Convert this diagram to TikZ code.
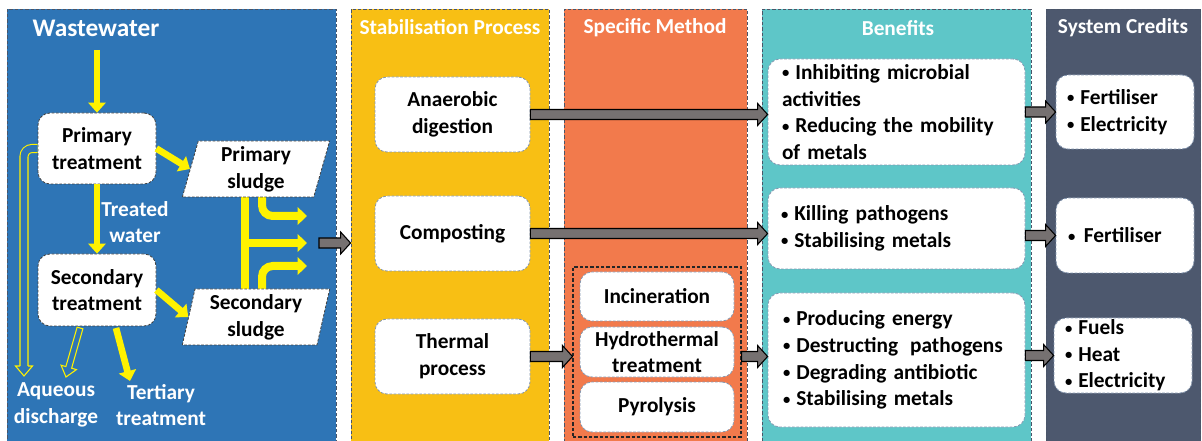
\documentclass[tikz,border=0pt]{standalone}
\usepackage{fontspec}
\setmainfont{Carlito}
\usetikzlibrary{arrows.meta,calc,fit,shapes.geometric}
\definecolor{wwblue}{HTML}{2E75B6}
\definecolor{stabgold}{HTML}{F8BF14}
\definecolor{specor}{HTML}{F27A4C}
\definecolor{benteal}{HTML}{5EC6C8}
\definecolor{credslate}{HTML}{4D586E}
\definecolor{garrowc}{HTML}{767171}
\definecolor{boxborder}{HTML}{8497B0}
\definecolor{panelborder}{HTML}{4A5568}
\newcommand{\bul}{\raisebox{1.2pt}{\fontsize{11pt}{11pt}\selectfont•}\hspace{4.5pt}}
\newcommand{\blockarrow}[2]{%
  \draw[garr] let \p1=#1, \p2=#2 in
    (\x1,\y1+3.75pt) -- (\x2-7.5pt,\y1+3.75pt) -- (\x2-7.5pt,\y1+8.25pt) --
    (\x2,\y1) -- (\x2-7.5pt,\y1-8.25pt) -- (\x2-7.5pt,\y1-3.75pt) --
    (\x1,\y1-3.75pt) -- cycle;}
\newcommand{\hollowarrow}[2]{%
  \coordinate (hb) at ($(#2)!7.5pt!(#1)$);
  \draw[harr] ($(#1)!2.25pt!90:(#2)$) -- ($(hb)!2.25pt!90:(#2)$) --
    ($(hb)!6pt!90:(#2)$) -- (#2) -- ($(hb)!6pt!-90:(#2)$) --
    ($(hb)!2.25pt!-90:(#2)$) -- ($(#1)!2.25pt!-90:(#2)$) -- cycle;}
\begin{document}
\begin{tikzpicture}[x=0.75pt,y=-0.75pt,
  font=\bfseries\fontsize{16pt}{20pt}\selectfont,
  panel/.style={fill=#1, draw=panelborder, line width=0.6pt,
    dash pattern=on 2.5pt off 1.5pt, inner sep=0pt},
  hdr/.style={text=white, inner sep=0pt},
  wlabel/.style={text=white, align=center, inner sep=0pt},
  box/.style={fill=white, draw=boxborder, line width=0.6pt,
    dash pattern=on 2pt off 1.2pt, rounded corners=9pt, align=center,
    inner sep=0pt, text=black},
  dbox/.style={box, draw=black!75},
  lbox/.style={box, align=left, inner ysep=0pt},
  para/.style={trapezium, trapezium left angle=78, trapezium right angle=102,
    trapezium stretches=true, fill=white, draw=black!75, line width=0.6pt,
    dash pattern=on 2pt off 1.2pt, align=center, inner sep=0pt,
    minimum width=111pt, minimum height=42pt},
  yarr/.style={draw=yellow, line width=5pt, -{Triangle[length=7.5pt,width=13pt]}},
  ybar/.style={draw=yellow, line width=6.5pt},
  ybr/.style={draw=yellow, line width=6pt, rounded corners=8pt,
    -{Triangle[length=7pt,width=13pt]}},
  harr/.style={draw=yellow, line width=0.8pt, fill=wwblue},
  hdouble/.style={draw=yellow, line width=0.8pt, double=wwblue,
    double distance=5.2pt, rounded corners=6pt},
  garr/.style={fill=garrowc, draw=black, line width=0.8pt},
  grpbox/.style={draw=black!85, line width=0.8pt, dash pattern=on 2.5pt off 1.5pt,
    inner sep=0pt}
]
\useasboundingbox (0,0) rectangle (1202,441);
\clip (0,0) rectangle (1202,441);

% panels
\node[panel=wwblue, fit={(7,9) (336,450)}] (ww) {};
\node[panel=stabgold, fit={(351,9) (549,450)}] (stab) {};
\node[panel=specor, fit={(564,9) (747,450)}] (spec) {};
\node[panel=benteal, fit={(762,9) (1031,450)}] (ben) {};
\node[panel=credslate, fit={(1046,9) (1200.5,450)}] (cred) {};

% headers
\node[hdr, font=\bfseries\fontsize{19pt}{22pt}\selectfont] (hww) at (96,28) {Wastewater};
\node[hdr] (hstab) at (450,27) {Stabilisation Process};
\node[hdr] (hspec) at (655,28) {Specific Method};
\node[hdr] (hben) at (898,28) {Benefits};
\node[hdr] (hcred) at (1123,28) {System Credits};

% wastewater panel
\coordinate (wwin) at (97,50);
\node[dbox, minimum width=88.5pt, minimum height=53.25pt] (pt) at (97,148.5) {Primary\\treatment};
\node[dbox, minimum width=88.5pt, minimum height=54pt] (st) at (97,290) {Secondary\\treatment};

% sludge merge (under parallelograms)
\draw[ybar] (245,190) -- (245,295);
\draw[ybr] (245,243) -- (307,243);
\draw[ybr] (262,190) -- (262,216) -- (307,216);
\draw[ybr] (262,295) -- (262,266) -- (307,266);

\node[para] (ps) at (256,169) {Primary\\sludge};
\node[para] (ss) at (256,317) {Secondary\\sludge};

\draw[yarr] (wwin) -- (pt.north);
\draw[yarr] (pt.south) -- (st.north);
\node[wlabel] (tw) at (135,222) {Treated\\water};
\draw[yarr] (pt.east) -- (ps.west);
\draw[yarr] (st.east) -- (ss.west);

% hollow arrows to aqueous discharge
\coordinate (aq1) at (24,376);
\draw[hdouble] (pt.west) -| ($(aq1)+(0,-10)$);
\draw[harr] ($(aq1)+(-4,-10)$) -- ($(aq1)+(-8.5,-10)$) -- (aq1) -- ($(aq1)+(8.5,-10)$) -- ($(aq1)+(4,-10)$);
\coordinate (aq2s) at (80,328);
\coordinate (aq2) at (66,377);
\hollowarrow{aq2s}{aq2}
\coordinate (ter1) at (116,328);
\coordinate (ter) at (130,381);
\draw[yarr] (ter1) -- (ter);
\node[wlabel] (aqd) at (56,405) {Aqueous\\discharge};
\node[wlabel] (tert) at (161,405) {Tertiary\\treatment};

\coordinate (sl) at (319,243);
\blockarrow{(sl)}{(stab.west |- sl)}

% stabilisation
\node[box, minimum width=116.25pt, minimum height=56.25pt] (ad) at (452.5,114.5) {Anaerobic\\digestion};
\node[box, minimum width=116.25pt, minimum height=56.25pt] (comp) at (452.5,233.5) {Composting};
\node[box, minimum width=116.25pt, minimum height=56.25pt] (th) at (452.5,356.5) {Thermal\\process};

% specific method
\node[grpbox, fit={(573,267) (741,437)}] (grp) {};
\node[box, minimum width=115.5pt, minimum height=36.75pt] (inc) at (657,296.5) {Incineration};
\node[box, minimum width=115.5pt, minimum height=37.5pt] (hyd) at (657,352) {Hydrothermal\\treatment};
\node[box, minimum width=115.5pt, minimum height=37.5pt] (pyr) at (657,407) {Pyrolysis};

% benefits
\node[lbox, inner xsep=10.5pt, text width=171.75pt, minimum height=79.5pt] (b1) at (896.5,112)
  {\bul Inhibiting microbial\\activities\\\bul Reducing the mobility\\of metals};
\node[lbox, inner xsep=9.75pt, text width=173.25pt, minimum height=60.75pt] (b2) at (896.5,228.5)
  {\bul Killing pathogens\\\bul Stabilising metals};
\node[lbox, inner xsep=11.25pt, text width=170.25pt, minimum height=100.5pt] (b3) at (896.5,360)
  {\bul Producing energy\\\bul Destructing\hspace{9pt}pathogens\\\bul Degrading antibiotic\\\bul Stabilising metals};

% credits
\node[lbox, inner xsep=8.25pt, text width=87pt, minimum height=55.5pt] (c1) at (1125,112)
  {\bul Fertiliser\\\bul Electricity};
\node[lbox, inner xsep=9pt, text width=85.5pt, minimum height=56.25pt] (c2) at (1125,235.5)
  {\bul\hspace{2pt}Fertiliser};
\node[lbox, inner xsep=8.25pt, text width=87pt, minimum height=56.25pt] (c3) at (1123,355.5)
  {\bul Fuels\\\bul Heat\\\bul Electricity};

% grey arrows
\blockarrow{(ad.east)}{(b1.west |- ad.east)}
\blockarrow{(comp.east)}{(b2.west |- comp.east)}
\blockarrow{(th.east)}{(grp.west |- th.east)}
\blockarrow{(grp.east |- th.east)}{(b3.west |- th.east)}
\blockarrow{(b1.east |- c1.west)}{(c1.west)}
\blockarrow{(b2.east |- c2.west)}{(c2.west)}
\blockarrow{(b3.east |- c3.west)}{(c3.west)}
\end{tikzpicture}
\end{document}
